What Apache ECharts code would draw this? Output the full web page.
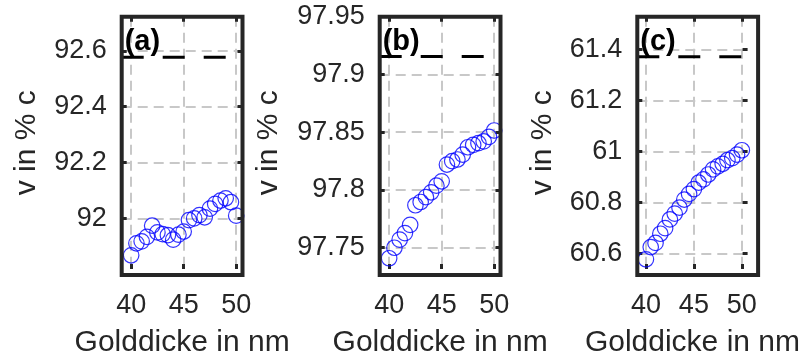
<!DOCTYPE html>
<html><head><meta charset="utf-8">
<script src="https://cdn.jsdelivr.net/npm/echarts@6/dist/echarts.min.js"></script>
<style>html,body{margin:0;padding:0;background:#fff}#c{width:803px;height:363px}</style>
</head><body><div id="c"></div>
<script>
// ---- data ----
const thickness = [40,40.5,41,41.5,42,42.5,43,43.5,44,44.5,45,45.5,46,46.5,47,47.5,48,48.5,49,49.5,50];
const vA = [91.868,91.911,91.918,91.934,91.974,91.950,91.944,91.940,91.924,91.942,91.953,91.994,92.000,92.012,92.004,92.035,92.052,92.064,92.072,92.058,92.010];
const vB = [97.7409,97.7500,97.7570,97.7627,97.7698,97.7868,97.7896,97.7938,97.7980,97.8037,97.8075,97.8220,97.8250,97.8264,97.8306,97.8370,97.8390,97.8405,97.8420,97.8460,97.8515];
const vC = [60.578,60.626,60.642,60.678,60.700,60.734,60.757,60.780,60.812,60.834,60.853,60.878,60.891,60.910,60.930,60.942,60.952,60.966,60.974,60.988,61.005];
const refA = 92.577, refB = 97.9156, refC = 61.371;
const xTicks = [40,45,50];
const yTicksA = [92,92.2,92.4,92.6];
const yTicksB = [97.75,97.8,97.85,97.9,97.95];
const yTicksC = [60.6,60.8,61,61.2,61.4];
const panelLabels = ['(a)','(b)','(c)'];
const xName = 'Golddicke in nm';
const yName = 'v in % c';

// ---- layout / style ----
const FONT = 'Liberation Sans';
const TXT = '#262626';
const xMin = 39.1, xMax = 50.6;
const TOP = 16.7, W = 120.8, H = 258.3;
const panels = [
  {left:121.7, vals:vA, ref:refA, ticks:yTicksA, min:91.819, max:92.722, nameGap:80},
  {left:379.7, vals:vB, ref:refB, ticks:yTicksB, min:97.7316, max:97.95, nameGap:96},
  {left:637.3, vals:vC, ref:refC, ticks:yTicksC, min:60.54, max:61.528, nameGap:80}
];
const fmt = v => String(parseFloat(Number(v).toFixed(3)));

const grid=[], xAxis=[], yAxis=[], series=[], graphic=[];
panels.forEach((p,i)=>{
  grid.push({left:p.left, top:TOP, width:W, height:H, show:true,
    borderWidth:0, backgroundColor:'#fff', containLabel:false});
  const tick = {show:true, inside:true, length:5, lineStyle:{color:TXT, width:3}};
  xAxis.push({gridIndex:i, type:'value', min:xMin, max:xMax, position:'bottom',
    axisLine:{show:false},
    axisTick:Object.assign({}, tick, {customValues:xTicks}),
    axisLabel:{customValues:xTicks, color:TXT, fontFamily:FONT, fontSize:27, margin:23, formatter:fmt},
    splitLine:{show:true, lineStyle:{color:'#c8c8c8', width:2, type:[10,6]}},
    name:xName, nameLocation:'middle', nameGap:59,
    nameTextStyle:{color:TXT, fontFamily:FONT, fontSize:30}});
  xAxis.push({gridIndex:i, type:'value', min:xMin, max:xMax, position:'top',
    axisLine:{show:false},
    axisTick:Object.assign({}, tick, {customValues:xTicks}),
    axisLabel:{show:false}, splitLine:{show:false}});
  yAxis.push({gridIndex:i, type:'value', min:p.min, max:p.max, position:'left',
    axisLine:{show:false},
    axisTick:Object.assign({}, tick, {customValues:p.ticks}),
    axisLabel:{customValues:p.ticks, color:TXT, fontFamily:FONT, fontSize:27, margin:15, formatter:fmt},
    splitLine:{show:true, lineStyle:{color:'#c8c8c8', width:2, type:[10,6]}},
    name:yName, nameLocation:'middle', nameGap:p.nameGap, nameRotate:90,
    nameTextStyle:{color:TXT, fontFamily:FONT, fontSize:30}});
  yAxis.push({gridIndex:i, type:'value', min:p.min, max:p.max, position:'right',
    axisLine:{show:false},
    axisTick:Object.assign({}, tick, {customValues:p.ticks}),
    axisLabel:{show:false}, splitLine:{show:false}});
  series.push({type:'line', xAxisIndex:2*i, yAxisIndex:2*i, silent:true,
    data:[[xMin,p.ref],[xMax,p.ref]], symbol:'none',
    lineStyle:{color:'#000', width:3, type:[22,19]}, z:3});
  series.push({type:'scatter', xAxisIndex:2*i, yAxisIndex:2*i, silent:true,
    data:thickness.map((x,k)=>[x,p.vals[k]]), symbol:'circle', symbolSize:15.5,
    itemStyle:{color:'rgba(0,0,0,0)', borderColor:'#0000ff', borderWidth:1.2}, z:4});
  // axes box drawn on top of grid lines
  graphic.push({type:'rect', z:50, silent:true,
    shape:{x:p.left, y:TOP, width:W, height:H},
    style:{fill:null, stroke:TXT, lineWidth:4}});
  graphic.push({type:'text', left:p.left+3, top:27, z:100,
    style:{text:panelLabels[i], fill:'#000', font:'bold 29px "Liberation Sans"'}});
});

const chart = echarts.init(document.getElementById('c'), null, {renderer:'canvas'});
chart.setOption({animation:false, backgroundColor:'#fff', grid, xAxis, yAxis, series, graphic});
</script></body></html>
